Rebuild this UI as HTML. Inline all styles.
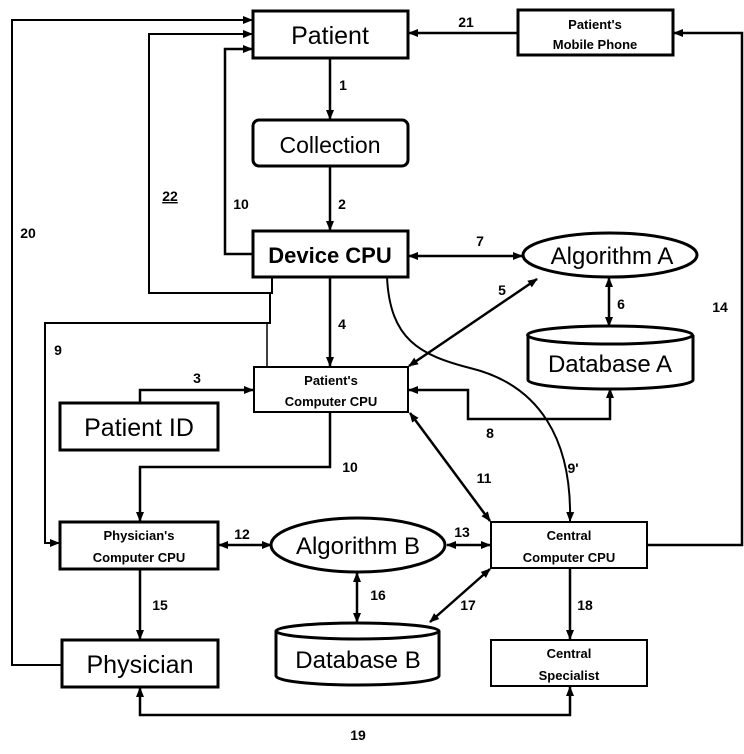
<!DOCTYPE html>
<html><head><meta charset="utf-8"><style>
html,body{margin:0;padding:0;background:#fff;}
svg{display:block;}
text{font-family:"Liberation Sans",Arial,sans-serif;fill:#000;}
.n{font-size:14px;font-weight:bold;text-anchor:middle;}
</style></head><body>
<svg width="744" height="754" viewBox="0 0 744 754" xmlns="http://www.w3.org/2000/svg">
<defs>
<marker id="a" markerWidth="10" markerHeight="10" refX="9" refY="5" orient="auto-start-reverse" markerUnits="userSpaceOnUse">
<path d="M0,1 L10,5 L0,9 Z" fill="#000"/></marker>
</defs>
<g fill="none" stroke="#000" stroke-width="3">
<!-- boxes -->
<rect x="253" y="11" width="155" height="47"/>
<rect x="518" y="10" width="155" height="45"/>
<rect x="253" y="120" width="155" height="46" rx="6"/>
<rect x="253" y="231" width="155" height="46"/>
<ellipse cx="610" cy="255" rx="87" ry="22"/>
<path d="M528,335 L528,380 A82,9 0 0 0 693,380 L693,335"/>
<ellipse cx="610" cy="335" rx="82.5" ry="9"/>
<rect x="254" y="367" width="154" height="45" stroke-width="2"/>
<rect x="60" y="403" width="158" height="47"/>
<rect x="60" y="522" width="158" height="47"/>
<ellipse cx="358" cy="545" rx="87" ry="27"/>
<rect x="491" y="522" width="156" height="46" stroke-width="2"/>
<path d="M276,631 L276,676 A81.5,9 0 0 0 439,676 L439,631"/>
<ellipse cx="357.5" cy="631" rx="81.5" ry="8"/>
<rect x="62" y="640" width="156" height="47"/>
<rect x="491" y="640" width="156" height="46" stroke-width="2"/>
</g>
<g fill="none" stroke="#000" stroke-width="2.5">
<line x1="330" y1="58" x2="330" y2="119" marker-end="url(#a)"/>
<line x1="330" y1="166" x2="330" y2="230" marker-end="url(#a)"/>
<line x1="330" y1="277" x2="330" y2="366" marker-end="url(#a)"/>
<line x1="409" y1="256" x2="522" y2="256" marker-start="url(#a)" marker-end="url(#a)"/>
<line x1="409" y1="366" x2="537" y2="279" marker-start="url(#a)" marker-end="url(#a)"/>
<line x1="609" y1="278" x2="609" y2="326" marker-start="url(#a)" marker-end="url(#a)"/>
<polyline points="409,390 468,390 468,419 610,419 610,389" marker-start="url(#a)" marker-end="url(#a)"/>
<polyline points="140,403 140,390 253,390" marker-end="url(#a)"/>
<polyline points="330,412 330,467 140,467 140,521" marker-end="url(#a)"/>
<line x1="410" y1="413" x2="490" y2="521" marker-start="url(#a)" marker-end="url(#a)"/>
<path d="M387,277 C390,340 420,355 470,368 C540,385 572,440 570,521" stroke-width="2" marker-end="url(#a)"/>
<line x1="219" y1="545" x2="271" y2="545" marker-start="url(#a)" marker-end="url(#a)"/>
<line x1="447" y1="545" x2="490" y2="545" marker-start="url(#a)" marker-end="url(#a)"/>
<polyline points="647,545 742,545 742,33 674,33" marker-end="url(#a)"/>
<line x1="518" y1="33" x2="409" y2="33" marker-end="url(#a)"/>
<polyline points="253,254 225,254 225,49 252,49" marker-end="url(#a)"/>
<polyline points="272,277 272,293 149,293 149,34 252,34" marker-end="url(#a)" stroke-width="2"/>
<polyline points="270,293 270,323 45,323 45,543 59,543" marker-end="url(#a)" stroke-width="2"/>
<line x1="267" y1="323" x2="267" y2="367" stroke-width="1.5"/>
<polyline points="62,665 12,665 12,20 252,20" marker-end="url(#a)" stroke-width="2"/>
<line x1="140" y1="569" x2="140" y2="639" marker-end="url(#a)"/>
<line x1="357" y1="573" x2="357" y2="622" marker-start="url(#a)" marker-end="url(#a)"/>
<line x1="490" y1="569" x2="430" y2="622" marker-start="url(#a)" marker-end="url(#a)"/>
<line x1="570" y1="568" x2="570" y2="639" marker-end="url(#a)"/>
<polyline points="140,688 140,715 570,715 570,687" marker-start="url(#a)" marker-end="url(#a)"/>
</g>
<!-- node text -->
<text x="330" y="44" font-size="25" text-anchor="middle">Patient</text>
<text x="595" y="29" font-size="13" font-weight="bold" text-anchor="middle">Patient's</text>
<text x="595" y="49" font-size="13" font-weight="bold" text-anchor="middle">Mobile Phone</text>
<text x="330" y="153" font-size="23" text-anchor="middle">Collection</text>
<text x="330" y="263" font-size="22" font-weight="bold" text-anchor="middle">Device CPU</text>
<text x="612" y="264" font-size="24" text-anchor="middle">Algorithm A</text>
<text x="610" y="372" font-size="24" text-anchor="middle">Database A</text>
<text x="331" y="385" font-size="13" font-weight="bold" text-anchor="middle">Patient's</text>
<text x="331" y="406" font-size="13" font-weight="bold" text-anchor="middle">Computer CPU</text>
<text x="139" y="436" font-size="25" text-anchor="middle">Patient ID</text>
<text x="139" y="540" font-size="13" font-weight="bold" text-anchor="middle">Physician's</text>
<text x="139" y="562" font-size="13" font-weight="bold" text-anchor="middle">Computer CPU</text>
<text x="358" y="554" font-size="24" text-anchor="middle">Algorithm B</text>
<text x="569" y="540" font-size="13" font-weight="bold" text-anchor="middle">Central</text>
<text x="569" y="562" font-size="13" font-weight="bold" text-anchor="middle">Computer CPU</text>
<text x="358" y="668" font-size="24" text-anchor="middle">Database B</text>
<text x="140" y="673" font-size="25" text-anchor="middle">Physician</text>
<text x="569" y="658" font-size="13" font-weight="bold" text-anchor="middle">Central</text>
<text x="569" y="680" font-size="13" font-weight="bold" text-anchor="middle">Specialist</text>
<!-- labels -->
<text class="n" x="343" y="90">1</text>
<text class="n" x="342" y="209">2</text>
<text class="n" x="197" y="383">3</text>
<text class="n" x="342" y="329">4</text>
<text class="n" x="502" y="295">5</text>
<text class="n" x="621" y="309">6</text>
<text class="n" x="480" y="246">7</text>
<text class="n" x="490" y="438">8</text>
<text class="n" x="58" y="355">9</text>
<text class="n" x="241" y="209">10</text>
<text class="n" x="350" y="472">10</text>
<text class="n" x="484" y="483">11</text>
<text class="n" x="242" y="539">12</text>
<text class="n" x="462" y="537">13</text>
<text class="n" x="720" y="312">14</text>
<text class="n" x="160" y="610">15</text>
<text class="n" x="378" y="600">16</text>
<text class="n" x="468" y="610">17</text>
<text class="n" x="585" y="610">18</text>
<text class="n" x="358" y="740">19</text>
<text class="n" x="28" y="238">20</text>
<text class="n" x="466" y="27">21</text>
<text class="n" x="170" y="201" text-decoration="underline">22</text>
<text class="n" x="573" y="473">9'</text>
</svg>
</body></html>
